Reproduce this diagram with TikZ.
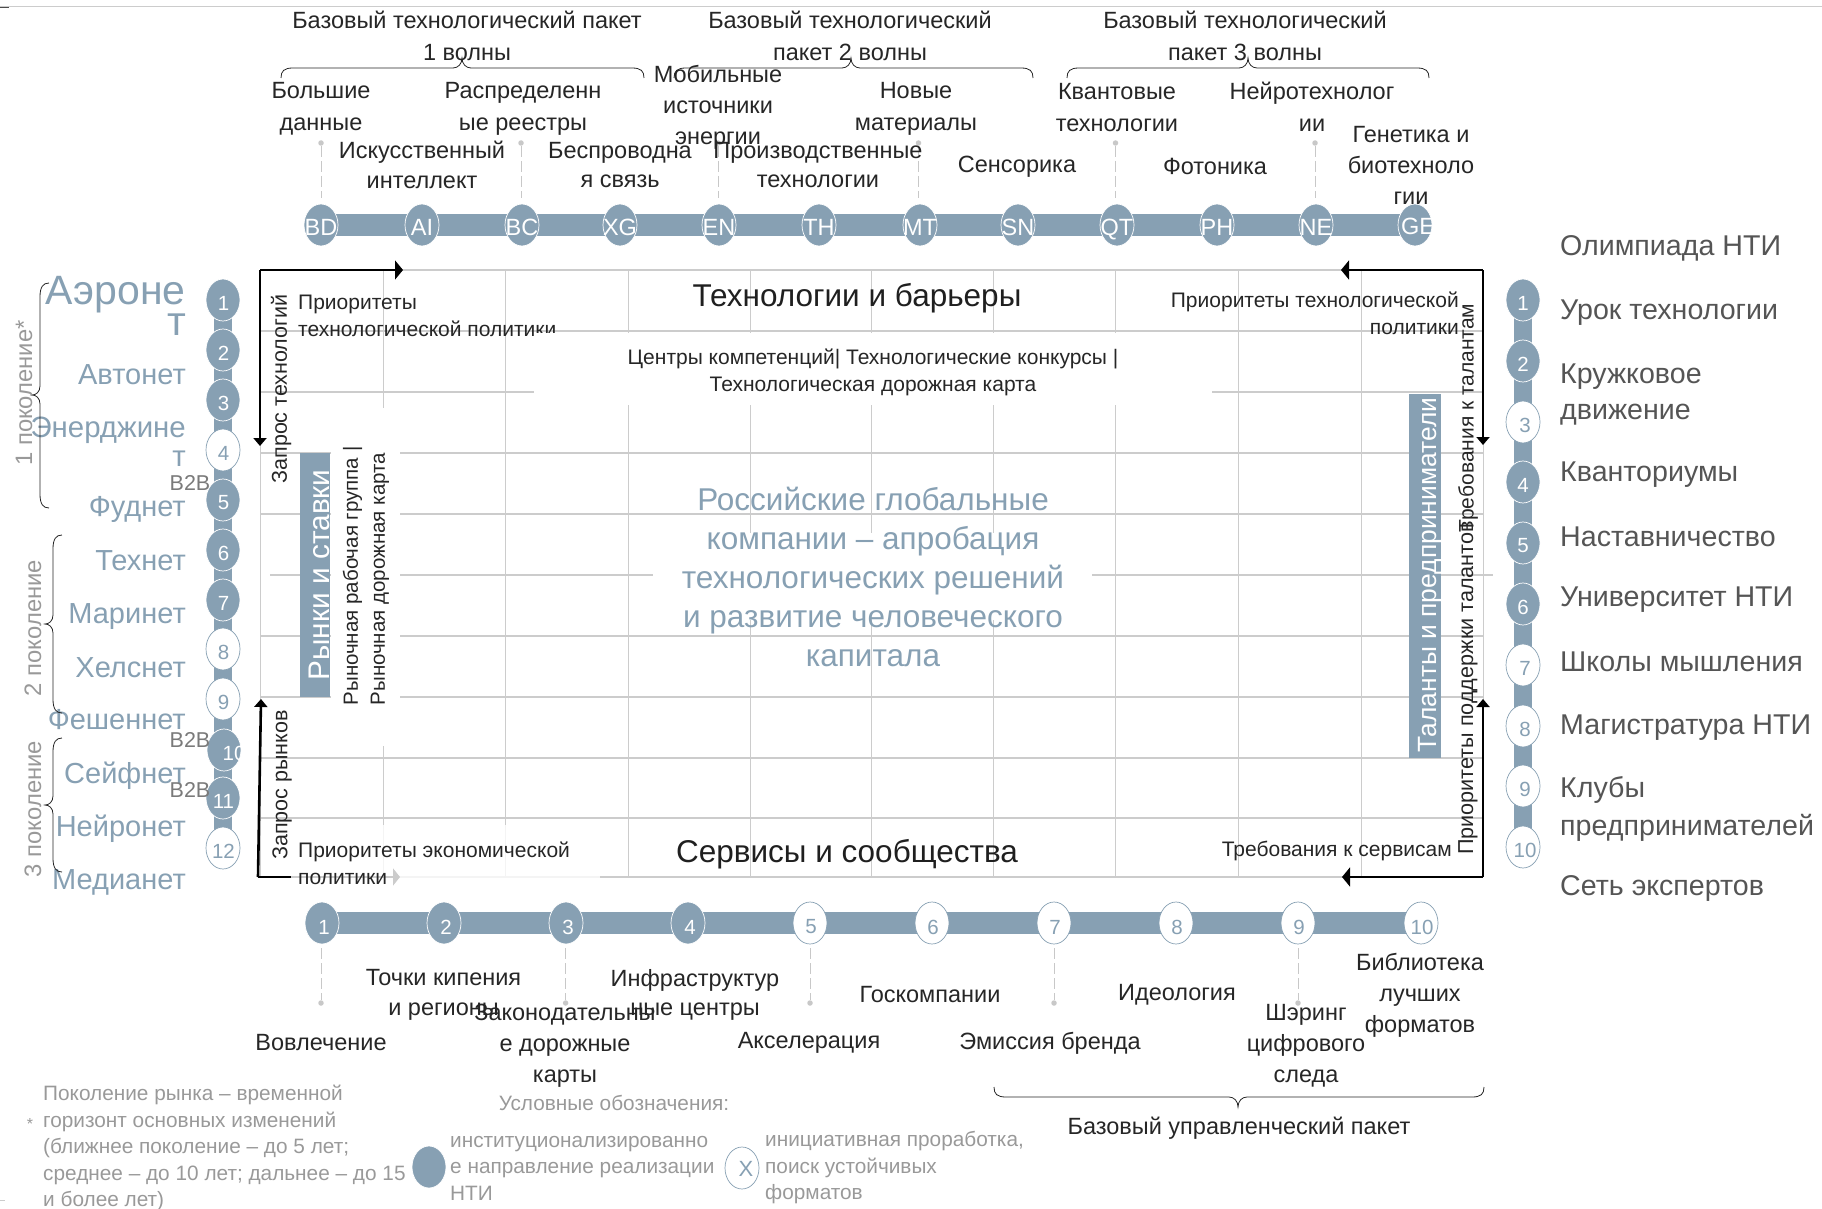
\documentclass[tikz,border=0pt]{standalone}
\usepackage{fontspec}
\setmainfont{Liberation Sans}
\usetikzlibrary{shapes.geometric,arrows.meta,backgrounds}
\definecolor{bluec}{HTML}{87A0B3}
\definecolor{gridc}{HTML}{CCCCCC}
\definecolor{darkt}{HTML}{555555}
\definecolor{grayt}{HTML}{999999}
\definecolor{leadc}{HTML}{C8C8C8}
\newcommand{\fs}[2]{\fontsize{#1}{#2}\selectfont}
\tikzset{
  lab/.style={inner sep=0pt,align=center,text=black!85,font=\fs{23.5}{32}},
  labt/.style={lab,font=\fs{23.5}{29.5}},
  small/.style={inner sep=0pt,text=black!85,font=\fs{21}{27}},
  rotsmall/.style={small,rotate=90},
  head/.style={inner sep=0pt,text=black!88,font=\fs{31.5}{34}},
  lft/.style={inner sep=0pt,anchor=east,align=right,text=bluec,font=\fs{29}{30}},
  rgt/.style={inner sep=0pt,anchor=west,align=left,text=darkt,font=\fs{28.6}{36}},
  gen/.style={inner sep=0pt,rotate=90,text=grayt,font=\fs{23.8}{24}},
  leg/.style={inner sep=0pt,anchor=west,align=left,text=grayt,font=\fs{20.8}{26.5}},
  btob/.style={inner sep=0pt,text=grayt!80!black,font=\fs{21.5}{22}},
  band/.style={inner sep=0pt,rotate=90,text=white,font=\fs{26.4}{30}},
  fcirc/.style={ellipse,inner sep=0pt,minimum width=34pt,minimum height=42pt,fill=bluec,draw=white,line width=.7pt},
  hcirc/.style={ellipse,inner sep=0pt,minimum width=34pt,minimum height=42pt,fill=white,draw=bluec,line width=.7pt},
  numw/.style={inner sep=0pt,text=white,font=\fs{20.5}{22}},
  numb/.style={inner sep=0pt,text=bluec,font=\fs{20.5}{22}},
  codew/.style={inner sep=0pt,text=white,font=\fs{23.5}{24},text height=17pt,text depth=0pt},
  gridl/.style={draw=gridc,line width=.9pt},
  barl/.style={draw=bluec,line width=22.5pt},
  leader/.style={draw=leadc,line width=.9pt,dash pattern=on 11pt off 4pt},
  dotn/.style={circle,fill=leadc,inner sep=0pt,minimum size=5.5pt},
  flow/.style={draw=black,line width=1.9pt},
  arH/.style={-{Triangle[length=8pt,width=19pt]}},
  arV/.style={-{Triangle[length=8pt,width=13pt]}},
  bracel/.style={draw=black!85,line width=.8pt},
}
% horizontal brace: x1,x2,xtip,yline,dir (+1: ends below/tip above)
\newcommand{\hbr}[5]{\draw[bracel] (#1,{#4+10*#5}) .. controls (#1,{#4+3*#5}) and ({#1+3},#4) .. ({#1+12},#4)
  -- ({#3-9},#4) .. controls ({#3-4},#4) and (#3,{#4-4*#5}) .. (#3,{#4-10*#5})
  .. controls (#3,{#4-4*#5}) and ({#3+4},#4) .. ({#3+9},#4) -- ({#2-12},#4)
  .. controls ({#2-3},#4) and (#2,{#4+3*#5}) .. (#2,{#4+10*#5});}
% vertical brace: xline, y1, y2, ytip
\newcommand{\vbr}[4]{\draw[bracel] ({#1+9},#2) .. controls ({#1+3},#2) and (#1,{#2+4}) .. (#1,{#2+14})
  -- (#1,{#4-9}) .. controls (#1,{#4-3}) and ({#1-4},#4) .. ({#1-8},#4)
  .. controls ({#1-4},#4) and (#1,{#4+3}) .. (#1,{#4+9}) -- (#1,{#3-14})
  .. controls (#1,{#3-4}) and ({#1+3},#3) .. ({#1+9},#3);}
\begin{document}
\begin{tikzpicture}[x=1pt,y=-1pt]
\path[use as bounding box] (0,0) rectangle (1822,1209);
% top rule
\draw[draw=gridc,line width=1pt] (0,7) -- (1822,7);
\draw[draw=black!70,line width=.8pt] (0,7) -- (9,7);
\draw[draw=gridc,line width=.8pt] (0,1200) -- (5,1200);
% grid
\foreach \x in {260,383,505,628,750,871,993,1115,1238,1361,1483} \draw[gridl] (\x,270) -- (\x,877);
\foreach \y in {270,331,392,453,514,636,697,758,818,877} \draw[gridl,line width=1.1pt] (260,\y) -- (1483,\y);
\draw[gridl,line width=1.1pt] (270,575) -- (1493,575);
% white patches
\fill[white] (653,533) rectangle (1092,620);
\fill[white] (331,408) rectangle (400,746);
% flow arrows
\coordinate (tl) at (260,270); \coordinate (tlr) at (403,270); \coordinate (tld) at (260,446);
\coordinate (bl) at (258,877); \coordinate (blu) at (261,699); \coordinate (blr) at (400,877);
\coordinate (tr) at (1483,270); \coordinate (trl) at (1341,270); \coordinate (trd) at (1483,445);
\coordinate (br) at (1483,877); \coordinate (brl) at (1342,877); \coordinate (bru) at (1483,699);
\draw[flow,arH] (tl) -- (tlr);
\draw[flow,arV] (tl) -- (tld);
\draw[flow,arV,line width=2.6pt] (bl) -- (blu);
\draw[flow,-{Triangle[length=7pt,width=17pt]}] (bl) -- (blr);
\draw[flow,arH] (tr) -- (trl);
\draw[flow,arV] (tr) -- (trd);
\draw[flow,arH] (br) -- (brl);
\draw[flow,arV] (br) -- (bru);
\fill[white,fill opacity=.8] (291,825) rectangle (600,888);
% top-left text (cut by band below)
\node[small,anchor=west,align=left] (ptp) at (298,316) {Приоритеты\\технологической политики};
\fill[white] (534,333) rectangle (1212,405);
% bands
\fill[bluec] (300,453) rectangle (330,697);
\fill[bluec] (1409,394) rectangle (1441,758);
\node[band,font=\fs{29.8}{30}] (rs) at (319,575) {Рынки и ставки};
\node[band] (tp) at (1430,575) {Таланты и предприниматели};
% central texts
\node[head] (tb) at (857,298) {Технологии и барьеры};
\node[head] (ss) at (847,854) {Сервисы и сообщества};
\node[small,align=center] (cc) at (873,372) {Центры компетенций| Технологические конкурсы |\\Технологическая дорожная карта};
\node[inner sep=0pt,align=center,text=bluec,font=\fs{31.5}{39.2}] (rg) at (873,577) {Российские глобальные\\компании – апробация\\технологических решений\\и развитие человеческого\\капитала};
\node[small,anchor=east,align=right] (ptr) at (1459,313) {Приоритеты технологической\\политики};
\node[small,anchor=east] (ts) at (1452,851) {Требования к сервисам};
\node[small,anchor=west,align=left] (pep) at (298,863) {Приоритеты экономической\\политики};
\node[rotsmall,font=\fs{21.5}{27}] (zt) at (281,389) {Запрос технологий};
\node[rotsmall,font=\fs{21.5}{27}] (zr) at (282,785) {Запрос рынков};
\node[rotsmall,align=left,font=\fs{20.5}{27}] (rr) at (366,576) {Рыночная рабочая группа |\\Рыночная дорожная карта};
\node[rotsmall] (tt) at (1468,418) {Требования к талантам};
\node[rotsmall,font=\fs{21.6}{27}] (pt) at (1468,688) {Приоритеты поддержки талантов};
% top chain
\foreach \n/\x/\s/\c in {BD/321/f/BD,AI/422/f/AI,BC/522/f/BC,XG/620/f/XG,EN/719/f/EN,TH/819/f/TH,MT/920/f/MT,SN/1018/f/SN,QT/1117/f/QT,PH/1217/f/PH,NE/1316/f/NE}{
  \node[fcirc] (\n) at (\x,225) {};
  \node[codew] (\n t) at (\x,227) {\c};
}
\node[fcirc] (GE) at (1415,225) {};
\begin{scope}
\clip (1415,225) ellipse (17 and 21);
\node[codew] (GE t) at (1418,226) {GE};
\end{scope}
\begin{scope}[on background layer]
\draw[barl] (BD.center) -- (GE.center);
\end{scope}
% top leaders
\foreach \n/\x in {BD/321,BC/521,EN/718,MT/918.5,QT/1115.5,NE/1315}{
  \node[dotn] (d\n) at (\x,143) {};
  \coordinate (e\n) at (\x,198);
  \draw[leader] (d\n) -- (e\n);
}
% top labels
\node[lab] (p1) at (467,36) {Базовый технологический пакет\\1 волны};
\node[lab] (p2) at (850,36) {Базовый технологический\\пакет 2 волны};
\node[lab] (p3) at (1245,36) {Базовый технологический\\пакет 3 волны};
\hbr{281}{644}{462}{68}{1}
\hbr{674}{1033}{851}{68}{1}
\hbr{1067}{1429}{1248}{68}{1}
\node[lab] (lBD) at (321,109) {Большие\\данные};
\node[labt] (lAI) at (422,165) {Искусственный\\интеллект};
\node[lab] (lBC) at (523,109) {Распределенн\\ые реестры};
\node[labt] (lXG) at (620,165) {Беспроводна\\я связь};
\node[labt,font=\fs{23.5}{31}] (lEN) at (718,107) {Мобильные\\источники\\энергии};
\node[labt] (lTH) at (818,165) {Производственные\\технологии};
\node[lab] (lMT) at (916,109) {Новые\\материалы};
\node[lab] (lSN) at (1017,167) {Сенсорика};
\node[lab] (lQT) at (1117,108) {Квантовые\\технологии};
\node[lab] (lPH) at (1215,166) {Фотоника};
\node[lab] (lNE) at (1312,107) {Нейротехнолог\\ии};
\node[labt,font=\fs{23.5}{31}] (lGE) at (1411,165) {Генетика и\\биотехноло\\гии};
% left chain
\foreach \i/\y/\k in {1/300/f,2/350/f,3/400/f,4/450/h,5/500/f,6/550/f,7/600/f,8/649/h,9/699/h,10/750/f,11/798/f,12/848/h}{
  \ifnum\i=10 \else
  \if\k f
    \node[fcirc] (L\i) at (223,\y) {};
    \node[numw] (L\i t) at (223.5,\y+3) {\i};
  \else
    \node[hcirc] (L\i) at (223,\y) {};
    \node[numb] (L\i t) at (223.5,\y+3) {\i};
  \fi\fi
}
\node[fcirc] (L10) at (224,750) {};
\begin{scope}
\clip (224,750) ellipse (17 and 21);
\node[numw] (L10 t) at (234,753) {10};
\end{scope}
\begin{scope}[on background layer]
\draw[draw=bluec,line width=18pt] (L1.center) -- (L12.center);
\end{scope}
\node[lft,font=\fs{41}{28}] (a1) at (186,306) {Аэроне\\т};
\node[lft] (a2) at (186,375) {Автонет};
\node[lft,font=\fs{29.4}{29}] (a3) at (186,442) {Энерджине\\т};
\node[lft] (a5) at (186,509.5) {Фуднет};
\node[lft] (a6) at (186,561) {Технет};
\node[lft] (a7) at (186,616.5) {Маринет};
\node[lft] (a8) at (186,668) {Хелснет};
\node[lft] (a9) at (186,720) {Фешеннет};
\node[lft] (a10) at (186,776) {Сейфнет};
\node[lft] (a11) at (186,829) {Нейронет};
\node[lft] (a12) at (186,882) {Медианет};
\node[btob] (b1) at (190,483) {B2B};
\node[btob] (b2) at (190,740) {B2B};
\node[btob] (b3) at (190,790) {B2B};
\vbr{40}{283}{508}{395}
\vbr{53}{535}{713}{624}
\vbr{53}{738}{872}{805}
\node[gen] (g1) at (24,393) {1 поколение*};
\node[gen] (g2) at (33,628) {2 поколение};
\node[gen] (g3) at (33,809) {3 поколение};
% right chain
\foreach \i/\y/\k in {1/300/f,2/361/f,3/422/h,4/482/f,5/543/f,6/604/f,7/665/h,8/726/h,9/786/h,10/847/h}{
  \if\k f
    \node[fcirc] (R\i) at (1523,\y) {};
    \node[numw] (R\i t) at (1523,\y+3) {\i};
  \else
    \node[hcirc] (R\i) at (1523,\y) {};
    \node[numb] (R\i t) at (1525,\y+3) {\i};
  \fi
}
\begin{scope}[on background layer]
\draw[draw=bluec,line width=18pt] (R1.center) -- (R10.center);
\end{scope}
\node[rgt] (r1) at (1560,248) {Олимпиада НТИ};
\node[rgt] (r2) at (1560,313) {Урок технологии};
\node[rgt] (r3) at (1560,395) {Кружковое\\движение};
\node[rgt] (r4) at (1560,475) {Кванториумы};
\node[rgt] (r5) at (1560,537) {Наставничество};
\node[rgt] (r6) at (1560,600) {Университет НТИ};
\node[rgt] (r7) at (1560,662) {Школы мышления};
\node[rgt] (r8) at (1560,728) {Магистратура НТИ};
\node[rgt,font=\fs{28.6}{38}] (r9) at (1560,809) {Клубы\\предпринимателей};
\node[rgt] (r10) at (1560,888) {Сеть экспертов};
% bottom chain
\foreach \i/\x/\k in {1/322/f,2/444/f,3/566/f,4/688/f,5/810/h,6/932/h,7/1054/h,8/1176/h,9/1298/h,10/1421/h}{
  \if\k f
    \node[fcirc] (B\i) at (\x,923) {};
    \node[numw] (B\i t) at (\x+2,927) {\i};
  \else
    \node[hcirc] (B\i) at (\x,923) {};
    \node[numb] (B\i t) at (\x+1,927) {\i};
  \fi
}
\begin{scope}[on background layer]
\draw[barl] (B1.center) -- (B10.center);
\end{scope}
\foreach \n/\x in {B1/321,B3/565.6,B5/810,B7/1054,B9/1298}{
  \node[dotn] (d\n) at (\x,1003) {};
  \coordinate (e\n) at (\x,948);
  \draw[leader] (e\n) -- (d\n);
}
\node[lab] (q1) at (321,1043) {Вовлечение};
\node[labt] (q2) at (443.5,995) {Точки кипения\\и регионы};
\node[labt,font=\fs{23.5}{31}] (q3) at (565,1046) {Законодательны\\е дорожные\\карты};
\node[labt] (q4) at (695,995) {Инфраструктур\\ные центры};
\node[lab] (q5) at (809,1043) {Акселерация};
\node[lab] (q6) at (930,995) {Госкомпании};
\node[lab] (q7) at (1050,1043) {Эмиссия бренда};
\node[lab] (q8) at (1177,995) {Идеология};
\node[labt,font=\fs{23.5}{31}] (q9) at (1306,1046) {Шэринг\\цифрового\\следа};
\node[labt,font=\fs{23.5}{31}] (q10) at (1420,995) {Библиотека\\лучших\\форматов};
\hbr{994}{1484}{1238}{1097}{-1}
\node[lab] (bup) at (1239,1128) {Базовый управленческий пакет};
% legend
\node[leg] (l1) at (43,1148) {Поколение рынка – временной\\горизонт основных изменений\\(ближнее поколение – до 5 лет;\\среднее – до 10 лет; дальнее – до 15\\и более лет)};
\node[inner sep=0pt,text=grayt,font=\fs{16}{18}] (ast) at (30,1124) {*};
\node[inner sep=0pt,text=grayt,font=\fs{20.8}{24}] (l2) at (614,1103) {Условные обозначения:};
\node[fcirc] (l3) at (429,1167) {};
\node[leg] (l4) at (450,1168) {институционализированно\\е направление реализации\\НТИ};
\node[hcirc] (l5) at (742,1168) {};
\node[numb,font=\fs{22}{24}] (l5t) at (746,1169) {X};
\node[leg] (l6) at (765,1168) {инициативная проработка,\\поиск устойчивых\\форматов};
\end{tikzpicture}
\end{document}
